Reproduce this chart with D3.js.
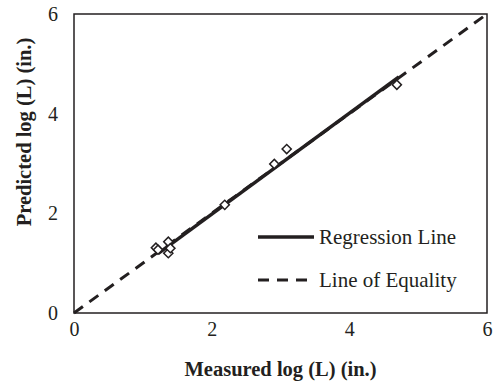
<!DOCTYPE html>
<html>
<head>
<meta charset="utf-8">
<script src="https://cdn.jsdelivr.net/npm/d3@7"></script>
<style>
  body { margin: 0; background: #fff; }
  svg text { font-family: "Liberation Serif", "DejaVu Serif", serif; fill: #231f20; }
</style>
</head>
<body>
<div id="chart"></div>
<script>
// measured vs predicted log(L)
const measured  = [1.19, 1.22, 1.37, 1.37, 1.40, 2.19, 2.91, 3.09, 4.69];
const predicted = [1.31, 1.27, 1.43, 1.20, 1.30, 2.17, 2.99, 3.29, 4.58];

// regression line end points
const regX = [1.22, 4.72];
const regY = [1.19, 4.74];

// line of equality
const eqX = [0, 6];
const eqY = [0, 6];

const xTicks = [0, 2, 4, 6];
const yTicks = [0, 2, 4, 6];

const W = 493, H = 383;
const MARGIN = { top: 14, right: 6, bottom: 70, left: 74 };
const chartWidth = W - MARGIN.left - MARGIN.right;
const chartHeight = H - MARGIN.top - MARGIN.bottom;

const svg = d3.select("#chart").append("svg")
  .attr("width", W).attr("height", H);

const g = svg.append("g")
  .attr("transform", `translate(${MARGIN.left},${MARGIN.top})`);

const xScale = d3.scaleLinear().domain([0, 6]).range([0, chartWidth]);
const yScale = d3.scaleLinear().domain([0, 6]).range([chartHeight, 0]);

// frame
g.append("rect")
  .attr("width", chartWidth).attr("height", chartHeight)
  .attr("fill", "none").attr("stroke", "#231f20").attr("stroke-width", 1.5);

g.append("g")
  .attr("transform", `translate(0,${chartHeight})`)
  .call(d3.axisBottom(xScale).tickValues(xTicks).tickSize(0).tickPadding(9).tickFormat(d3.format("d")))
  .call(a => a.select(".domain").remove())
  .call(a => a.selectAll("text").attr("font-size", 20).attr("fill", null));

g.append("g")
  .call(d3.axisLeft(yScale).tickValues(yTicks).tickSize(0).tickPadding(16).tickFormat(d3.format("d")))
  .call(a => a.select(".domain").remove())
  .call(a => a.selectAll("text").attr("font-size", 20).attr("fill", null));

const line = d3.line().x(d => xScale(d[0])).y(d => yScale(d[1]));

g.append("path")
  .attr("d", line(d3.zip(eqX, eqY)))
  .attr("fill", "none").attr("stroke", "#231f20")
  .attr("stroke-width", 3).attr("stroke-dasharray", "11,8");

g.append("path")
  .attr("d", line(d3.zip(regX, regY)))
  .attr("fill", "none").attr("stroke", "#231f20").attr("stroke-width", 3.5);

const diamond = d3.symbol().type(d3.symbolSquare).size(42);
g.selectAll(".pt")
  .data(d3.zip(measured, predicted))
  .enter().append("path")
  .attr("class", "pt")
  .attr("d", diamond)
  .attr("transform", d => `translate(${xScale(d[0])},${yScale(d[1])}) rotate(45)`)
  .attr("fill", "#fff").attr("stroke", "#231f20").attr("stroke-width", 1.5);

// legend
const legend = svg.append("g");
legend.append("line")
  .attr("x1", 258).attr("x2", 314).attr("y1", 237).attr("y2", 237)
  .attr("stroke", "#231f20").attr("stroke-width", 3.5);
legend.append("text").attr("x", 319).attr("y", 244)
  .attr("font-size", 21).text("Regression Line");
legend.append("line")
  .attr("x1", 258).attr("x2", 314).attr("y1", 280).attr("y2", 280)
  .attr("stroke", "#231f20").attr("stroke-width", 3).attr("stroke-dasharray", "11,8");
legend.append("text").attr("x", 319).attr("y", 287)
  .attr("font-size", 21).text("Line of Equality");

// axis titles
svg.append("text")
  .attr("x", MARGIN.left + chartWidth / 2).attr("y", 376)
  .attr("text-anchor", "middle").attr("font-size", 20.5).attr("font-weight", "bold")
  .text("Measured log (L) (in.)");

svg.append("text")
  .attr("transform", "translate(31,132) rotate(-90)")
  .attr("text-anchor", "middle").attr("font-size", 20.5).attr("font-weight", "bold")
  .text("Predicted log (L) (in.)");
</script>
</body>
</html>
